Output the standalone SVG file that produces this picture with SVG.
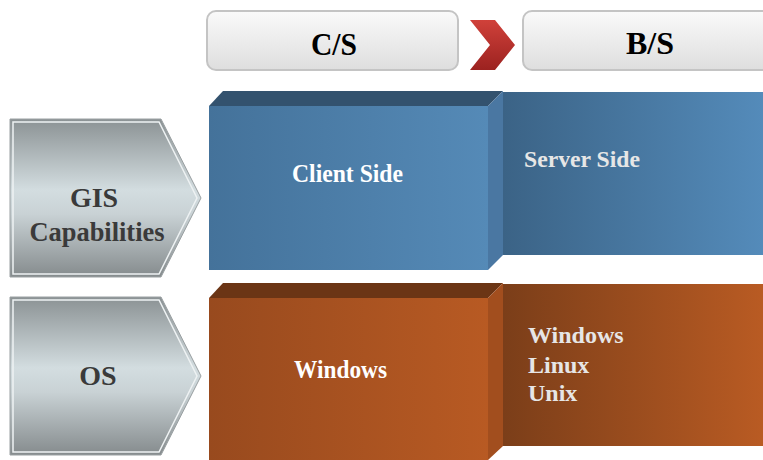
<svg xmlns="http://www.w3.org/2000/svg" width="763" height="460" viewBox="0 0 763 460">
<defs>
<linearGradient id="gHead" x1="0" y1="0" x2="0" y2="1"><stop offset="0" stop-color="#fafafa"/><stop offset="1" stop-color="#dedede"/></linearGradient>
<linearGradient id="gRed" x1="0" y1="0" x2="0" y2="1"><stop offset="0" stop-color="#d0413a"/><stop offset="1" stop-color="#9c2220"/></linearGradient>
<linearGradient id="gGray" x1="0" y1="0" x2="0" y2="1"><stop offset="0" stop-color="#8b9294"/><stop offset="0.45" stop-color="#d3dde0"/><stop offset="0.6" stop-color="#c9d2d5"/><stop offset="1" stop-color="#858b8d"/></linearGradient>
<linearGradient id="gBlueF" x1="0" y1="0" x2="1" y2="0"><stop offset="0" stop-color="#44729a"/><stop offset="1" stop-color="#558ab7"/></linearGradient>
<linearGradient id="gBlueB" x1="0" y1="0" x2="1" y2="0"><stop offset="0" stop-color="#3b6386"/><stop offset="1" stop-color="#548bba"/></linearGradient>
<linearGradient id="gOrF" x1="0" y1="0" x2="1" y2="0"><stop offset="0" stop-color="#984a1e"/><stop offset="1" stop-color="#b85a23"/></linearGradient>
<linearGradient id="gOrB" x1="0" y1="0" x2="1" y2="0"><stop offset="0" stop-color="#7b3e19"/><stop offset="1" stop-color="#b95b23"/></linearGradient>
</defs>
<style>
.hd{fill:url(#gHead);stroke:#c4c4c4;stroke-width:2}
.hdt{font-family:"Liberation Serif",serif;font-weight:bold;font-size:32px;fill:#000;text-anchor:middle}
.arr{fill:url(#gGray);stroke:#9aa0a2;stroke-width:1}
.arri{fill:none;stroke:#eef2f3;stroke-width:1.5}
.arrt{font-family:"Liberation Serif",serif;font-weight:bold;font-size:28px;fill:#3a3a3a;text-anchor:middle}
.wt{font-family:"Liberation Serif",serif;font-weight:bold;font-size:26px;fill:#ffffff}
.lt{font-family:"Liberation Serif",serif;font-weight:bold;font-size:24px;fill:#e6e6e6}
</style>
<g id="header-cs">
<rect class="hd" x="207" y="11" width="251" height="59" rx="9"/>
<text class="hdt" x="334" y="55" textLength="46" lengthAdjust="spacingAndGlyphs">C/S</text>
</g>
<g id="header-arrow">
<polygon points="470,20 495,20 515,45 495,70 470,70 490,45" fill="url(#gRed)"/>
</g>
<g id="header-bs">
<rect class="hd" x="523" y="11" width="260" height="59" rx="9"/>
<text class="hdt" x="650" y="54">B/S</text>
</g>
<g id="label-gis">
<polygon class="arr" points="10,119 161,119 201,198 161,277 10,277"/>
<polygon class="arri" points="13,122 159,122 197,198 159,274 13,274"/>
<text class="arrt" x="94" y="207">GIS</text>
<text class="arrt" x="97" y="241" textLength="135" lengthAdjust="spacingAndGlyphs">Capabilities</text>
</g>
<g id="label-os">
<polygon class="arr" points="10,297 161,297 201,376 161,455 10,455"/>
<polygon class="arri" points="13,300 159,300 197,376 159,452 13,452"/>
<text class="arrt" x="98" y="385">OS</text>
</g>
<g id="server-gis">
<rect x="503" y="92" width="260" height="163" fill="url(#gBlueB)"/>
<text class="lt" x="524" y="167" font-size="25" textLength="116" lengthAdjust="spacingAndGlyphs">Server Side</text>
</g>
<g id="client-gis">
<polygon points="209,106 223,91 503,91 488,106" fill="#33526e"/>
<polygon points="488,106 503,91 503,255 488,270" fill="#4a77a2"/>
<rect x="209" y="106" width="279" height="164" fill="url(#gBlueF)"/>
<text class="wt" x="292" y="182" textLength="111" lengthAdjust="spacingAndGlyphs">Client Side</text>
</g>
<g id="server-os">
<rect x="503" y="284" width="260" height="162" fill="url(#gOrB)"/>
<text class="lt" x="528" y="343">Windows</text>
<text class="lt" x="528" y="373">Linux</text>
<text class="lt" x="528" y="401">Unix</text>
</g>
<g id="client-os">
<polygon points="209,298 223,283 503,283 488,298" fill="#6b3515"/>
<polygon points="488,298 503,283 503,446 488,460" fill="#a24e1e"/>
<rect x="209" y="298" width="279" height="162" fill="url(#gOrF)"/>
<text class="wt" x="294" y="378" font-size="24" textLength="93" lengthAdjust="spacingAndGlyphs">Windows</text>
</g>
<g id="connectors"></g>
</svg>
